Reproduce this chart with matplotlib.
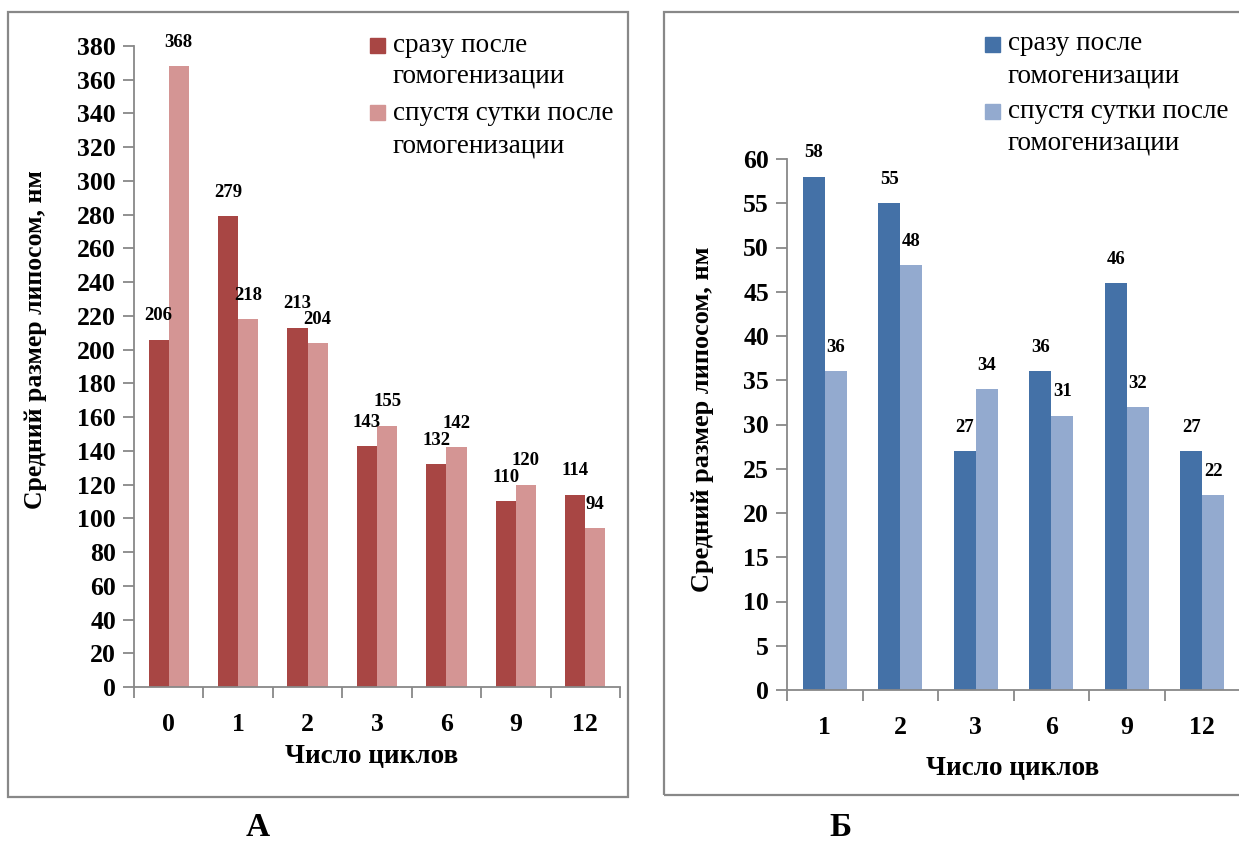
import matplotlib
matplotlib.use("Agg")
import matplotlib.pyplot as plt
from matplotlib.patches import Rectangle
import numpy as np

plt.rcParams['font.family'] = ['Liberation Serif', 'DejaVu Serif']
plt.rcParams['font.weight'] = 'bold'

# panel A: cycles 0..12
cycles_a = ['0', '1', '2', '3', '6', '9', '12']
a_fresh = [206, 279, 213, 143, 132, 110, 114]
a_day = [368, 218, 204, 155, 142, 120, 94]

# panel B: cycles 1..12
cycles_b = ['1', '2', '3', '6', '9', '12']
b_fresh = [58, 55, 27, 36, 46, 27]
b_day = [36, 48, 34, 31, 32, 22]

series_names = ['сразу после\nгомогенизации', 'спустя сутки после\nгомогенизации']
x_title = 'Число циклов'
y_title = 'Средний размер липосом, нм'

reds = ['#A84644', '#D49594']
blues = ['#4471A7', '#93AACF']
gray = '#888888'

W, H = 1239, 844
fig = plt.figure(figsize=(W / 100, H / 100), dpi=100)


def fx(px):
    return px / W


def fy(py):
    return 1 - py / H


def draw(ax, cats, fresh, day, colors, ymax, step):
    x = np.arange(len(cats))
    w = 0.29
    b1 = ax.bar(x - w / 2, fresh, w, color=colors[0])
    b2 = ax.bar(x + w / 2, day, w, color=colors[1])
    for bars, vals in ((b1, fresh), (b2, day)):
        for bar, v in zip(bars, vals):
            ax.annotate(str(v), (bar.get_x() + bar.get_width() / 2, v),
                        xytext=(0, 11), textcoords='offset points',
                        ha='center', va='bottom', fontsize=13.5, fontweight='bold')
    ax.set_xlim(-0.5, len(cats) - 0.5)
    ax.set_ylim(0, ymax)
    ax.set_yticks(np.arange(0, ymax + 1, step))
    ax.set_xticks(x)
    ax.set_xticklabels(cats)
    ax.set_xticks(np.arange(-0.5, len(cats)), minor=True)
    ax.tick_params(axis='x', which='major', length=0, pad=19, labelsize=18.5)
    ax.tick_params(axis='x', which='minor', length=8, color=gray, width=1.3)
    ax.tick_params(axis='y', length=8, color=gray, width=1.3, pad=5, labelsize=18.5)
    for s in ('top', 'right'):
        ax.spines[s].set_visible(False)
    for s in ('left', 'bottom'):
        ax.spines[s].set_color(gray)
        ax.spines[s].set_linewidth(1.3)


def legend(x_patch, patch_ys, line_ys, colors):
    for i, (name, c) in enumerate(zip(series_names, colors)):
        fig.add_artist(Rectangle((fx(x_patch), fy(patch_ys[i] + 15)), 15 / W, 15 / H,
                                 transform=fig.transFigure, color=c))
        for j, line in enumerate(name.split('\n')):
            fig.text(fx(x_patch + 23), fy(line_ys[i][j]), line, fontsize=19.5,
                     fontweight='normal', ha='left', va='center')


axA = fig.add_axes([fx(134), fy(687), fx(620) - fx(134), fy(46) - fy(687)])
draw(axA, cycles_a, a_fresh, a_day, reds, 380, 20)

axB = fig.add_axes([fx(787), fy(690), fx(1240) - fx(787), fy(159) - fy(690)])
draw(axB, cycles_b, b_fresh, b_day, blues, 60, 5)

# outer frames around each panel
fig.add_artist(Rectangle((fx(8), fy(797)), fx(628) - fx(8), fy(12) - fy(797),
                         transform=fig.transFigure, fill=False, ec=gray, lw=1.6))
fig.add_artist(Rectangle((fx(664), fy(795)), fx(1260) - fx(664), fy(12) - fy(795),
                         transform=fig.transFigure, fill=False, ec=gray, lw=1.6))

legend(370, [38, 105], [[45, 76], [113, 146]], reds)
legend(985, [37, 104], [[44, 76], [111, 143]], blues)

fig.text(fx(372), fy(757), x_title, fontsize=19.5, ha='center', va='center')
fig.text(fx(1013), fy(768), x_title, fontsize=19.5, ha='center', va='center')
fig.text(fx(36), fy(340), y_title, fontsize=18.5, rotation=90, ha='center', va='center')
fig.text(fx(703), fy(419), y_title, fontsize=19, rotation=90, ha='center', va='center')

fig.text(fx(258), fy(828), 'А', fontsize=24, ha='center', va='center')
fig.text(fx(840), fy(828), 'Б', fontsize=24, ha='center', va='center')

fig.savefig('out.png', dpi=100)
